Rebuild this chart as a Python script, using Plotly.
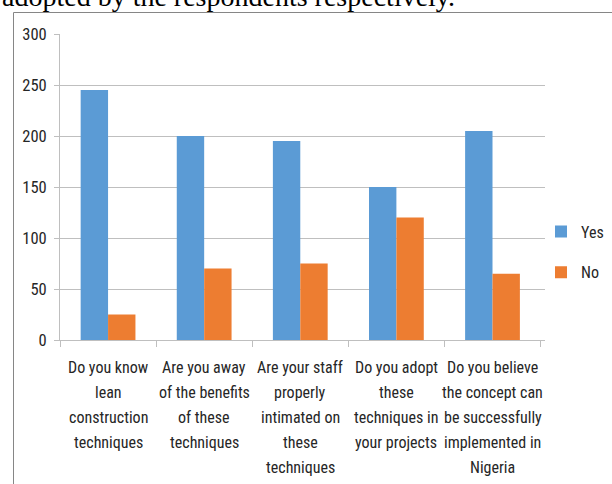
import plotly.graph_objects as go

categories = [
    "Do you know<br>lean<br>construction<br>techniques",
    "Are you away<br>of the benefits<br>of these<br>techniques",
    "Are your staff<br>properly<br>intimated on<br>these<br>techniques",
    "Do you adopt<br>these<br>techniques in<br>your projects",
    "Do you believe<br>the concept can<br>be successfully<br>implemented in<br>Nigeria",
]
yes_values = [245, 200, 195, 150, 205]
no_values = [25, 70, 75, 120, 65]
y_ticks = [0, 50, 100, 150, 200, 250, 300]

FONT = "Roboto Condensed, Liberation Sans Narrow, Liberation Sans, Arial, sans-serif"
W, H = 612, 484
L, R, T, B = 60, 67, 34, 144
PW = W - L - R
PH = H - T - B

def px_x(px):
    return (px - L) / PW

def px_y(py):
    return (H - B - py) / PH

fig = go.Figure()
fig.add_trace(go.Bar(x=categories, y=yes_values, name="Yes",
                     marker=dict(color="#5b9bd5", line=dict(width=0)),
                     legendgroup="a"))
fig.add_trace(go.Bar(x=categories, y=no_values, name="No",
                     marker=dict(color="#ed7d31", line=dict(width=0)),
                     legendgroup="b"))

annotations = []
for cat in categories:
    for i, line in enumerate(cat.split("<br>")):
        annotations.append(dict(
            x=cat, xref="x", y=0, yref="paper", text=line, showarrow=False,
            xanchor="center", yanchor="middle", yshift=-27 - 25 * i,
            font=dict(family=FONT, size=16, color="#262626")))

annotations.append(dict(
    x=px_x(0), xref="paper", y=px_y(-3), yref="paper",
    text="adopted by the respondents respectively.", showarrow=False,
    xanchor="left", yanchor="middle",
    font=dict(family="Liberation Serif, Times New Roman, serif", size=28, color="#000000")))

shapes = [
    dict(type="line", xref="paper", yref="paper",
         x0=px_x(13.5), x1=px_x(700), y0=px_y(12.5), y1=px_y(12.5),
         line=dict(color="#868686", width=1)),
    dict(type="line", xref="paper", yref="paper",
         x0=px_x(13.5), x1=px_x(13.5), y0=px_y(12.5), y1=px_y(600),
         line=dict(color="#868686", width=1)),
]

fig.update_layout(
    width=W, height=H,
    margin=dict(l=L, r=R, t=T, b=B, pad=0, autoexpand=False),
    paper_bgcolor="white", plot_bgcolor="white",
    barmode="group", bargap=0.43, bargroupgap=0,
    font=dict(family=FONT, size=16, color="#262626"),
    xaxis=dict(showticklabels=False, ticks="outside", tickson="boundaries",
               ticklen=6, tickcolor="#bfbfbf", showline=True, linecolor="#bfbfbf",
               linewidth=1, showgrid=False, fixedrange=True),
    yaxis=dict(range=[0, 300], tickvals=y_ticks, ticks="outside", ticklen=5,
               tickcolor="#bfbfbf", showline=True, linecolor="#bfbfbf", linewidth=1,
               showgrid=True, gridcolor="#bfbfbf", gridwidth=1, zeroline=False,
               tickfont=dict(size=16.5, color="#262626"), ticklabelstandoff=4),
    legend=dict(x=px_x(541), xanchor="left", y=px_y(252), yanchor="middle",
                traceorder="grouped", tracegroupgap=17,
                font=dict(size=16, color="#262626"), bgcolor="rgba(0,0,0,0)"),
    annotations=annotations,
    shapes=shapes,
)

fig.write_html("out.html")
